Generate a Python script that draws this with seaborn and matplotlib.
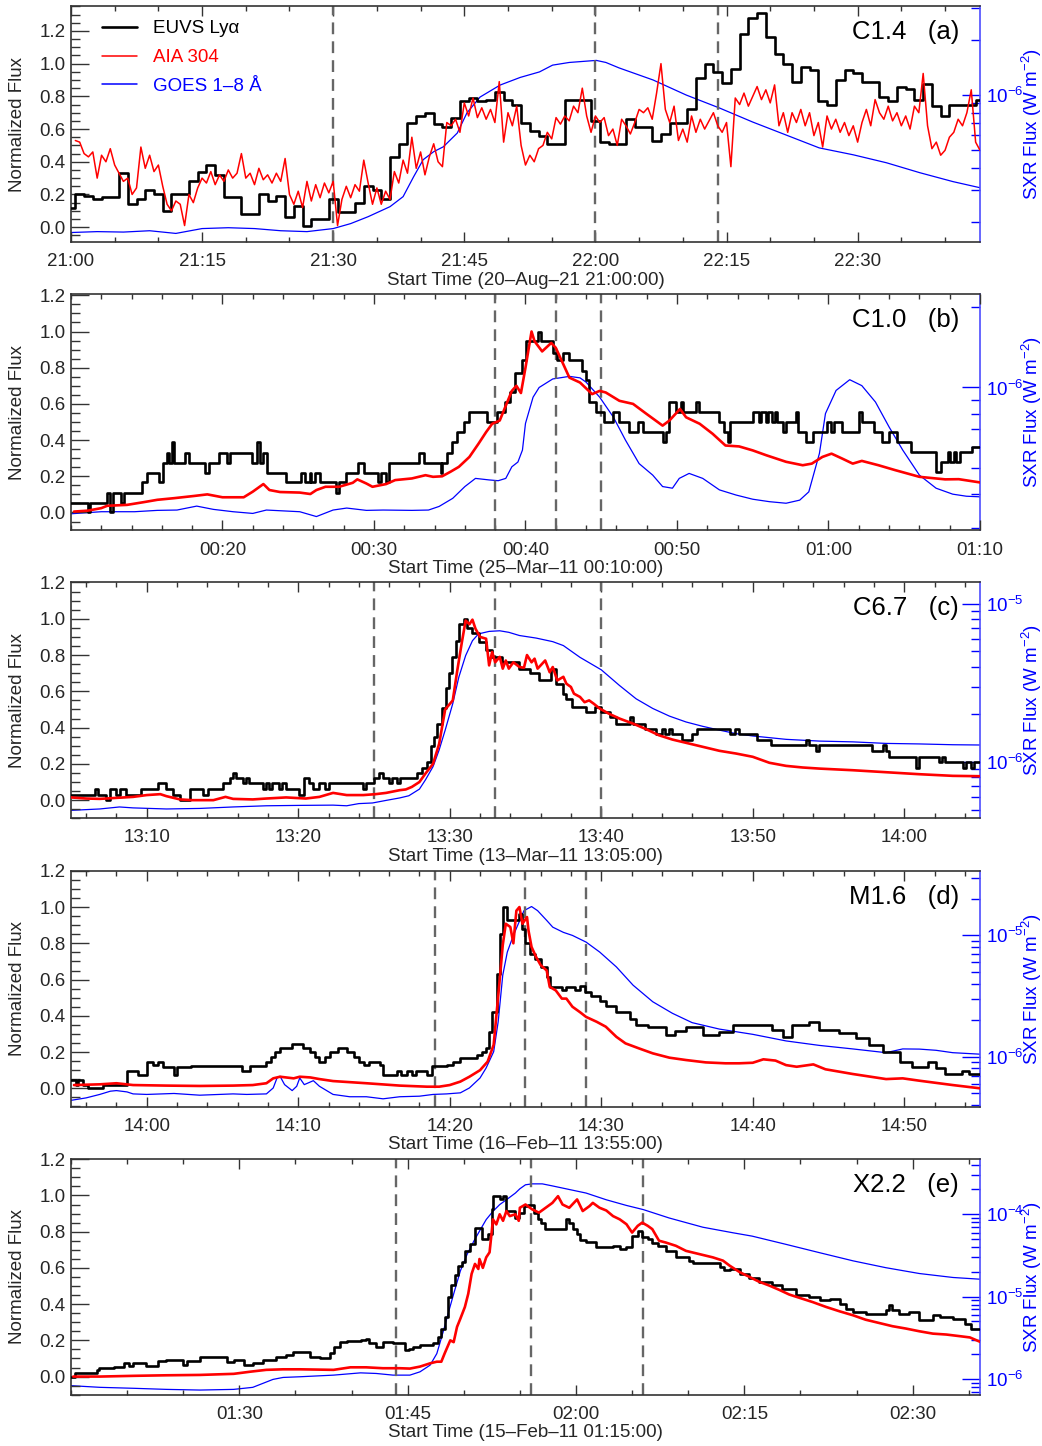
import numpy as np
import matplotlib
matplotlib.use('Agg')
import matplotlib.pyplot as plt
import matplotlib.ticker as mticker
from matplotlib.lines import Line2D
import seaborn as sns

sns.set_style('ticks')
plt.rcParams['font.family'] = ['Liberation Sans', 'DejaVu Sans']
plt.rcParams['mathtext.fontset'] = 'custom'
plt.rcParams['mathtext.rm'] = 'Liberation Sans'
plt.rcParams['mathtext.it'] = 'Liberation Sans:italic'
plt.rcParams['mathtext.sf'] = 'Liberation Sans'

# ---------------- DATA (minutes since start time) ----------------
# Panel (a) C1.4, 20-Aug-21 21:00
euvs_a = [0.12, 0.20, 0.19, 0.17, 0.185, 0.185, 0.33, 0.14, 0.17, 0.23,
          0.20, 0.10, 0.20, 0.20, 0.28, 0.34, 0.38, 0.32, 0.185, 0.185,
          0.08, 0.08, 0.20, 0.16, 0.19, 0.06, 0.13, 0.01, 0.05, 0.05,
          0.17, 0.09, 0.09, 0.15, 0.25, 0.225, 0.17, 0.43, 0.51, 0.64,
          0.68, 0.70, 0.63, 0.61, 0.67, 0.77, 0.79, 0.77, 0.78, 0.825,
          0.78, 0.745, 0.64, 0.59, 0.555, 0.51, 0.51, 0.78, 0.78, 0.78,
          0.65, 0.52, 0.506, 0.506, 0.66, 0.61, 0.61, 0.53, 0.57, 0.64,
          0.64, 0.72, 0.91, 1.00, 0.95, 0.88, 0.97, 1.18, 1.28, 1.31,
          1.16, 1.06, 1.00, 0.89, 0.98, 0.96, 0.77, 0.75, 0.90, 0.96,
          0.94, 0.89, 0.89, 0.795, 0.77, 0.86, 0.845, 0.78, 0.875, 0.74,
          0.68, 0.75, 0.75, 0.75, 0.78]
aia_a = [0.53, 0.52, 0.45, 0.43, 0.46, 0.30, 0.44, 0.40, 0.48, 0.38,
         0.33, 0.28, 0.30, 0.20, 0.24, 0.49, 0.36, 0.44, 0.34, 0.38,
         0.25, 0.14, 0.10, 0.16, 0.14, 0.01, 0.20, 0.15, 0.24, 0.30,
         0.27, 0.34, 0.26, 0.32, 0.28, 0.35, 0.30, 0.33, 0.45, 0.30,
         0.33, 0.26, 0.36, 0.29, 0.32, 0.27, 0.33, 0.28, 0.42, 0.20,
         0.14, 0.22, 0.12, 0.28, 0.16, 0.26, 0.18, 0.27, 0.21, 0.28,
         0.01, 0.17, 0.25, 0.18, 0.26, 0.22, 0.41, 0.27, 0.14, 0.24,
         0.14, 0.22, 0.17, 0.34, 0.27, 0.41, 0.33, 0.55, 0.36, 0.46,
         0.32, 0.43, 0.51, 0.40, 0.37, 0.64, 0.62, 0.66, 0.58, 0.76,
         0.68, 0.79, 0.67, 0.73, 0.66, 0.72, 0.64, 0.89, 0.52, 0.70,
         0.62, 0.74, 0.50, 0.38, 0.44, 0.40, 0.48, 0.50, 0.58, 0.54,
         0.67, 0.63, 0.68, 0.65, 0.74, 0.70, 0.85, 0.68, 0.58, 0.68,
         0.64, 0.67, 0.56, 0.60, 0.50, 0.66, 0.62, 0.57, 0.64, 0.72,
         0.70, 0.73, 0.66, 0.82, 1.00, 0.72, 0.64, 0.74, 0.53, 0.60,
         0.52, 0.68, 0.58, 0.66, 0.60, 0.65, 0.70, 0.62, 0.58, 0.64,
         0.37, 0.79, 0.75, 0.82, 0.74, 0.80, 0.86, 0.78, 0.84, 0.76,
         0.87, 0.62, 0.70, 0.58, 0.70, 0.64, 0.72, 0.62, 0.70, 0.56,
         0.64, 0.49, 0.68, 0.60, 0.66, 0.58, 0.64, 0.56, 0.62, 0.52,
         0.64, 0.72, 0.62, 0.78, 0.70, 0.66, 0.74, 0.65, 0.70, 0.62,
         0.68, 0.60, 0.74, 0.70, 0.94, 0.62, 0.48, 0.52, 0.44, 0.47,
         0.55, 0.58, 0.66, 0.62, 0.70, 0.84, 0.52, 0.47]
goes_a = [(0, 1.76e-7), (3, 1.78e-7), (6, 1.77e-7), (9, 1.80e-7), (12, 1.74e-7),
          (15, 1.85e-7), (18, 1.87e-7), (21, 1.85e-7), (24, 1.80e-7), (27, 1.78e-7),
          (30, 1.85e-7), (32, 1.97e-7), (34, 2.15e-7), (36.5, 2.44e-7), (38, 2.77e-7),
          (39.2, 3.56e-7), (40.3, 4.42e-7), (41.5, 4.89e-7), (42.6, 5.20e-7),
          (44.2, 6.19e-7), (45.3, 7.98e-7), (46.8, 9.75e-7), (49.1, 1.135e-6),
          (51.4, 1.25e-6), (53.6, 1.34e-6), (55.1, 1.46e-6), (57, 1.51e-6),
          (60.1, 1.55e-6), (61.2, 1.51e-6), (62.7, 1.41e-6), (66.6, 1.21e-6),
          (70.4, 1.0e-6), (74.2, 8.49e-7), (78, 7.11e-7), (81.8, 6.04e-7),
          (85.6, 5.13e-7), (89.5, 4.70e-7), (93.3, 4.25e-7), (97.1, 3.75e-7),
          (100.9, 3.35e-7), (104, 3.10e-7)]
dashed_a = [30, 60, 74]
xt_a = [0, 15, 30, 45, 60, 75, 90]
xl_a = ['21:00', '21:15', '21:30', '21:45', '22:00', '22:15', '22:30']

# Panel (b) C1.0, 25-Mar-11 00:10
euvs_b = [(0, 0.055), (1.1, 0.0), (1.25, 0.055), (2.36, 0.11), (2.6, 0.0), (2.75, 0.11),
          (3.3, 0.055), (3.5, 0.11), (4.7, 0.166), (5.03, 0.22), (5.8, 0.166), (6.06, 0.276),
          (6.35, 0.33), (6.5, 0.276), (6.67, 0.39), (6.8, 0.276), (7.55, 0.33), (7.77, 0.276),
          (8.86, 0.22), (9.08, 0.276), (9.74, 0.33), (10.28, 0.276), (10.5, 0.33),
          (11.93, 0.276), (12.25, 0.39), (12.5, 0.276), (12.69, 0.33), (12.91, 0.22),
          (14.22, 0.166), (15.21, 0.22), (15.43, 0.166), (15.75, 0.22), (15.86, 0.166),
          (16.08, 0.22), (16.41, 0.166), (17.51, 0.11), (17.72, 0.166), (18.16, 0.22),
          (18.93, 0.276), (19.37, 0.22), (20.24, 0.166), (20.46, 0.22), (20.79, 0.166),
          (21.0, 0.276), (22.98, 0.33), (23.3, 0.276), (24.4, 0.22), (24.51, 0.276),
          (24.84, 0.33), (25.16, 0.39), (25.49, 0.444), (25.93, 0.5), (26.26, 0.553),
          (27.46, 0.5), (28.12, 0.553), (28.67, 0.608), (29.0, 0.663), (29.32, 0.77),
          (29.8, 0.84), (30.04, 0.946), (30.8, 1.0), (31.0, 0.946), (31.8, 0.88),
          (32.1, 0.84), (32.5, 0.88), (32.9, 0.84), (33.7, 0.78), (34.0, 0.73),
          (34.2, 0.61), (34.66, 0.553), (35.2, 0.5), (35.76, 0.553), (36.2, 0.5),
          (36.86, 0.444), (37.4, 0.5), (37.74, 0.444), (39.05, 0.39), (39.27, 0.444),
          (39.5, 0.608), (39.93, 0.553), (40.26, 0.608), (40.37, 0.553), (41.25, 0.608),
          (41.47, 0.553), (42.8, 0.5), (43.1, 0.444), (43.34, 0.39), (43.5, 0.5),
          (45.0, 0.553), (45.4, 0.5), (45.55, 0.553), (45.85, 0.5), (46.0, 0.553),
          (46.3, 0.5), (46.45, 0.553), (46.6, 0.5), (46.97, 0.444), (47.19, 0.5),
          (47.85, 0.553), (47.96, 0.444), (48.5, 0.39), (48.95, 0.444), (49.93, 0.5),
          (50.15, 0.444), (50.37, 0.5), (50.92, 0.444), (52.02, 0.553), (52.24, 0.5),
          (53.0, 0.444), (53.56, 0.39), (54.0, 0.444), (54.55, 0.39), (55.43, 0.334),
          (57.08, 0.225), (57.4, 0.28), (57.9, 0.334), (58.0, 0.28), (58.3, 0.334),
          (58.4, 0.28), (58.7, 0.334), (59.5, 0.36), (60, 0.36)]
aia_b = [(0.2, 0.005), (1.1, 0.01), (2.0, 0.024), (2.4, 0.037), (3.7, 0.042), (4.8, 0.057),
         (5.7, 0.07), (6.8, 0.079), (8.1, 0.091), (9.0, 0.10), (10.0, 0.084), (11.4, 0.084),
         (12.0, 0.115), (12.7, 0.157), (13.1, 0.124), (13.8, 0.113), (15.1, 0.11),
         (15.8, 0.102), (16.2, 0.124), (16.8, 0.142), (17.7, 0.142), (18.6, 0.164),
         (18.9, 0.183), (19.5, 0.16), (19.9, 0.142), (20.8, 0.157), (21.4, 0.179),
         (22.5, 0.188), (23.4, 0.206), (23.9, 0.197), (24.5, 0.2), (25.05, 0.225),
         (25.6, 0.252), (26.3, 0.307), (26.9, 0.38), (27.4, 0.444), (27.8, 0.49),
         (28.3, 0.508), (28.7, 0.59), (29.1, 0.672), (29.4, 0.70), (29.7, 0.66),
         (30.0, 0.80), (30.4, 1.0), (30.6, 0.946), (31.1, 0.89), (31.7, 0.937),
         (32.0, 0.91), (32.6, 0.80), (32.9, 0.745), (33.6, 0.718), (34.4, 0.654),
         (34.9, 0.672), (35.3, 0.663), (36.2, 0.617), (37.1, 0.60), (38.0, 0.544),
         (39.05, 0.48), (39.5, 0.508), (40.2, 0.572), (40.6, 0.526), (41.5, 0.49),
         (42.35, 0.435), (43.2, 0.37), (44.1, 0.365), (45.0, 0.343), (45.9, 0.316),
         (47.2, 0.28), (48.3, 0.261), (48.9, 0.27), (49.6, 0.307), (50.2, 0.325),
         (50.9, 0.298), (51.6, 0.27), (52.2, 0.285), (53.3, 0.261), (54.4, 0.234),
         (56.0, 0.197), (57.7, 0.183), (58.6, 0.184), (60.0, 0.166)]
goes_b = [(0, 3.39e-7), (2, 3.45e-7), (4.2, 3.45e-7), (5.7, 3.49e-7), (7, 3.50e-7),
          (8.3, 3.62e-7), (9.4, 3.52e-7), (10.7, 3.45e-7), (12, 3.40e-7), (12.9, 3.50e-7),
          (15.1, 3.45e-7), (16.2, 3.31e-7), (17.3, 3.50e-7), (18.2, 3.56e-7), (19.5, 3.49e-7),
          (20.6, 3.50e-7), (22.5, 3.49e-7), (23.6, 3.50e-7), (24.3, 3.61e-7), (25.2, 3.87e-7),
          (26.0, 4.28e-7), (26.7, 4.59e-7), (27.6, 4.53e-7), (28.2, 4.50e-7), (28.7, 4.59e-7),
          (29.1, 5.07e-7), (29.5, 5.28e-7), (29.8, 5.85e-7), (30.0, 7.35e-7), (30.5, 9.20e-7),
          (30.9, 1.00e-6), (31.8, 1.076e-6), (32.9, 1.10e-6), (33.6, 1.086e-6), (34.0, 1.047e-6),
          (34.9, 9.20e-7), (35.8, 7.76e-7), (36.6, 6.37e-7), (37.5, 5.21e-7), (38.4, 4.72e-7),
          (39.05, 4.28e-7), (39.7, 4.22e-7), (40.15, 4.59e-7), (40.8, 4.79e-7), (41.7, 4.59e-7),
          (42.8, 4.16e-7), (43.9, 3.98e-7), (45, 3.84e-7), (46.1, 3.76e-7), (47.2, 3.71e-7),
          (48.1, 3.81e-7), (48.7, 4.09e-7), (49.4, 5.68e-7), (49.8, 8.0e-7), (50.5, 9.75e-7),
          (51.4, 1.069e-6), (52.2, 1.016e-6), (53.1, 8.83e-7), (54.0, 7.13e-7), (54.9, 5.85e-7),
          (56.0, 4.72e-7), (57.1, 4.22e-7), (58.2, 4.01e-7), (59.1, 3.94e-7), (60, 3.92e-7)]
dashed_b = [28, 32, 35]
xt_b = [10, 20, 30, 40, 50, 60]
xl_b = ['00:20', '00:30', '00:40', '00:50', '01:00', '01:10']

# Panel (c) C6.7, 13-Mar-11 13:05
euvs_c = [(0, 0.028), (1.58, 0.06), (1.8, 0.028), (2.3, 0.0), (2.56, 0.06), (3.0, 0.028),
          (3.22, 0.06), (3.66, 0.028), (4.65, 0.06), (5.75, 0.092), (6.3, 0.06), (6.73, 0.028),
          (7.17, 0.0), (7.83, 0.06), (8.7, 0.028), (9.04, 0.06), (10.03, 0.092), (10.47, 0.12),
          (10.69, 0.152), (10.9, 0.12), (11.35, 0.092), (11.55, 0.12), (11.78, 0.092),
          (12.66, 0.06), (12.88, 0.092), (13.1, 0.06), (13.3, 0.092), (13.7, 0.06),
          (13.9, 0.092), (14.2, 0.06), (15.06, 0.028), (15.4, 0.12), (15.74, 0.092),
          (15.96, 0.06), (16.4, 0.092), (16.8, 0.06), (17.0, 0.092), (19.25, 0.06),
          (19.47, 0.092), (20.0, 0.12), (20.35, 0.152), (20.57, 0.12), (21.0, 0.092),
          (21.2, 0.12), (21.5, 0.092), (21.7, 0.12), (22.87, 0.152), (23.2, 0.18),
          (23.53, 0.21), (23.75, 0.30), (23.97, 0.35), (24.19, 0.42), (24.52, 0.51),
          (24.74, 0.62), (24.96, 0.70), (25.18, 0.79), (25.4, 0.88), (25.6, 0.97),
          (25.94, 1.0), (26.16, 0.95), (26.49, 0.92), (26.93, 0.87), (27.37, 0.83),
          (27.8, 0.79), (28.47, 0.76), (29.6, 0.725), (30.3, 0.70), (30.9, 0.66),
          (31.7, 0.725), (32.0, 0.64), (32.5, 0.587), (32.7, 0.56), (33.1, 0.514),
          (34.0, 0.486), (34.6, 0.514), (35.0, 0.486), (35.55, 0.46), (36.0, 0.42),
          (36.9, 0.46), (37.1, 0.42), (37.9, 0.394), (38.6, 0.367), (39.0, 0.394),
          (39.2, 0.367), (39.5, 0.394), (39.7, 0.367), (40.3, 0.334), (41.0, 0.367),
          (41.3, 0.394), (43.5, 0.363), (43.8, 0.394), (44.1, 0.363), (45.3, 0.334),
          (46.2, 0.303), (48.5, 0.33), (48.7, 0.303), (49.2, 0.27), (49.4, 0.303),
          (52.9, 0.27), (53.6, 0.303), (53.8, 0.27), (54.0, 0.238), (55.8, 0.18),
          (56.0, 0.238), (57.3, 0.21), (57.5, 0.238), (57.7, 0.21), (58.9, 0.18),
          (59.1, 0.21), (59.4, 0.18), (59.6, 0.21), (60, 0.21)]
aia_c = [(0, 0.015), (1.0, 0.009), (1.9, 0.007), (4.1, 0.018), (5.0, 0.028), (5.9, 0.033),
         (6.3, 0.022), (7.2, 0.004), (8.0, 0.0), (9.4, 0.0), (10.2, 0.018), (10.7, 0.007),
         (12.0, 0.004), (12.9, 0.009), (14.2, 0.015), (15.5, 0.009), (16.4, 0.018),
         (17.3, 0.04), (18.2, 0.028), (19.3, 0.028), (20.1, 0.033), (20.8, 0.04),
         (21.7, 0.055), (22.1, 0.059), (22.5, 0.073), (23.0, 0.10), (23.4, 0.147),
         (23.9, 0.20), (24.3, 0.31), (24.7, 0.50), (25.2, 0.55), (25.5, 0.716), (25.8, 0.87),
         (26.05, 0.99), (26.3, 0.97), (26.5, 0.995), (26.7, 0.945), (27.0, 0.90),
         (27.4, 0.89), (27.6, 0.743), (27.8, 0.817), (28.0, 0.76), (28.3, 0.79),
         (28.5, 0.725), (28.7, 0.77), (28.9, 0.725), (29.2, 0.76), (29.6, 0.734),
         (29.9, 0.73), (30.1, 0.80), (30.4, 0.76), (30.6, 0.78), (30.8, 0.725),
         (31.3, 0.77), (31.6, 0.705), (31.8, 0.734), (32.1, 0.66), (32.5, 0.68),
         (32.7, 0.642), (33.0, 0.624), (33.2, 0.587), (33.6, 0.569), (33.9, 0.54),
         (34.2, 0.55), (34.5, 0.532), (34.9, 0.505), (35.5, 0.477), (36.2, 0.45),
         (37.1, 0.422), (38.0, 0.39), (38.8, 0.358), (39.7, 0.334), (40.6, 0.316),
         (41.7, 0.294), (42.8, 0.272), (43.9, 0.257), (45.0, 0.239), (46.1, 0.206),
         (47.2, 0.189), (48.3, 0.18), (49.4, 0.174), (51.6, 0.165), (53.8, 0.154),
         (56.0, 0.143), (58.2, 0.134), (60.0, 0.132)]
goes_c = [(0, 4.94e-7), (1.9, 5.04e-7), (3.2, 5.19e-7), (4.1, 5.12e-7), (6.3, 5.04e-7),
          (8.5, 5.08e-7), (10.7, 5.19e-7), (12.9, 5.28e-7), (15.1, 5.31e-7), (17.3, 5.33e-7),
          (18.2, 5.28e-7), (19, 5.45e-7), (19.9, 5.50e-7), (20.8, 5.71e-7), (21.7, 5.92e-7),
          (22.3, 6.11e-7), (23, 6.73e-7), (23.4, 7.71e-7), (23.9, 9.35e-7), (24.3, 1.19e-6),
          (24.7, 1.59e-6), (25.2, 2.34e-6), (25.6, 3.44e-6), (26.05, 4.71e-6), (26.5, 5.85e-6),
          (26.9, 6.46e-6), (27.6, 6.70e-6), (28.3, 6.76e-6), (28.9, 6.61e-6), (29.6, 6.31e-6),
          (30.7, 6.08e-6), (31.8, 5.77e-6), (32.5, 5.45e-6), (33.6, 4.59e-6), (35, 3.83e-6),
          (36.2, 3.05e-6), (37.3, 2.51e-6), (38.4, 2.18e-6), (39.5, 1.95e-6), (40.6, 1.79e-6),
          (41.7, 1.68e-6), (42.8, 1.59e-6), (43.9, 1.51e-6), (45, 1.46e-6), (47.2, 1.39e-6),
          (49.4, 1.355e-6), (51.6, 1.34e-6), (53.8, 1.31e-6), (56, 1.30e-6), (58.2, 1.285e-6),
          (60, 1.28e-6)]
dashed_c = [20, 28, 35]
xt_c = [5, 15, 25, 35, 45, 55]
xl_c = ['13:10', '13:20', '13:30', '13:40', '13:50', '14:00']

# Panel (d) M1.6, 16-Feb-11 13:55
euvs_d = [(0, 0.046), (0.3, 0.018), (0.45, 0.046), (0.8, 0.018), (1.1, 0.0), (2.1, 0.018),
          (3.7, 0.095), (4.45, 0.073), (5.0, 0.147), (5.4, 0.128), (5.75, 0.147), (6.1, 0.12),
          (6.8, 0.073), (7.0, 0.12), (7.9, 0.125), (11.3, 0.095), (11.8, 0.125), (12.9, 0.147),
          (13.2, 0.174), (13.5, 0.2), (13.8, 0.224), (14.6, 0.242), (15.3, 0.224), (15.8, 0.2),
          (16.1, 0.174), (16.4, 0.147), (16.8, 0.174), (17.1, 0.2), (17.6, 0.224), (18.2, 0.2),
          (18.7, 0.174), (19.0, 0.147), (19.35, 0.128), (19.7, 0.147), (20.4, 0.128),
          (20.6, 0.073), (21.5, 0.095), (21.8, 0.073), (22.2, 0.095), (22.5, 0.073),
          (22.8, 0.095), (23.5, 0.073), (23.8, 0.125), (24.8, 0.128), (25.2, 0.147),
          (25.7, 0.17), (26.8, 0.185), (27.1, 0.2), (27.4, 0.22), (27.6, 0.31), (27.8, 0.42),
          (28.1, 0.63), (28.3, 0.85), (28.5, 1.0), (28.8, 0.93), (29.6, 0.963), (29.8, 0.88),
          (30.0, 0.80), (30.3, 0.743), (30.6, 0.716), (31.0, 0.67), (31.4, 0.615),
          (31.6, 0.56), (32.4, 0.54), (32.7, 0.56), (33.3, 0.54), (33.6, 0.563),
          (33.9, 0.532), (34.3, 0.508), (34.9, 0.483), (35.3, 0.453), (36.0, 0.422),
          (36.9, 0.38), (37.3, 0.349), (38.1, 0.34), (39.3, 0.294), (39.9, 0.318),
          (40.6, 0.34), (41.7, 0.294), (42.8, 0.312), (43.7, 0.349), (46.3, 0.321),
          (47.0, 0.284), (47.6, 0.349), (48.7, 0.367), (49.4, 0.321), (50.7, 0.303),
          (51.8, 0.275), (52.7, 0.239), (53.6, 0.202), (54.7, 0.147), (55.5, 0.119),
          (56.6, 0.147), (57.1, 0.11), (57.7, 0.079), (58.8, 0.095), (59.3, 0.079),
          (60, 0.079)]
aia_d = [(0.2, 0.018), (1.9, 0.022), (3.0, 0.028), (4.1, 0.018), (6.3, 0.015), (8.5, 0.013),
         (10.7, 0.015), (12.0, 0.018), (12.9, 0.028), (13.35, 0.055), (13.8, 0.064),
         (14.7, 0.055), (15.1, 0.064), (15.8, 0.06), (16.4, 0.051), (17.3, 0.04),
         (19.5, 0.028), (21.7, 0.015), (23.5, 0.009), (24.3, 0.009), (25.0, 0.018),
         (25.7, 0.037), (26.3, 0.064), (27.0, 0.10), (27.5, 0.147), (27.9, 0.24),
         (28.1, 0.42), (28.3, 0.60), (28.5, 0.79), (28.7, 0.908), (29.0, 0.89), (29.2, 0.80),
         (29.4, 0.98), (29.6, 1.0), (29.8, 0.908), (30.1, 0.945), (30.2, 0.87), (30.4, 0.78),
         (30.7, 0.725), (31.0, 0.68), (31.4, 0.65), (31.6, 0.56), (32.0, 0.54),
         (32.4, 0.495), (32.7, 0.495), (33.1, 0.45), (33.6, 0.42), (34.0, 0.394),
         (34.7, 0.367), (35.3, 0.34), (36.0, 0.284), (36.6, 0.248), (37.5, 0.22),
         (38.4, 0.193), (39.5, 0.169), (40.6, 0.156), (41.9, 0.143), (43.2, 0.138),
         (44.1, 0.138), (45.0, 0.141), (45.7, 0.16), (46.5, 0.153), (47.2, 0.128),
         (47.9, 0.119), (49.0, 0.132), (49.8, 0.105), (51.6, 0.079), (53.8, 0.051),
         (54.9, 0.055), (56.0, 0.042), (58.2, 0.018), (60.0, 0.0)]
goes_d = [(0, 4.37e-7), (1, 4.58e-7), (1.9, 4.89e-7), (2.6, 5.20e-7), (3, 5.26e-7),
          (3.7, 5.13e-7), (4.1, 4.94e-7), (5, 4.89e-7), (6.8, 4.98e-7), (8.5, 4.82e-7),
          (10.7, 4.94e-7), (11.6, 4.89e-7), (12.9, 4.94e-7), (13.35, 5.53e-7), (13.6, 6.68e-7),
          (13.8, 6.90e-7), (14.1, 5.89e-7), (14.6, 5.26e-7), (14.9, 5.71e-7), (15.1, 6.68e-7),
          (15.4, 5.89e-7), (16, 6.35e-7), (16.4, 5.71e-7), (17.3, 4.89e-7), (18.4, 4.68e-7),
          (19.5, 4.68e-7), (20.6, 4.50e-7), (21.7, 4.68e-7), (23, 4.73e-7), (23.9, 4.89e-7),
          (24.8, 4.94e-7), (25.7, 5.04e-7), (26.3, 5.53e-7), (27, 6.68e-7), (27.4, 8.07e-7),
          (27.9, 1.10e-6), (28.2, 1.95e-6), (28.5, 4.70e-6), (28.8, 7.29e-6), (29.2, 1.0e-5),
          (29.6, 1.31e-5), (29.9, 1.60e-5), (30.4, 1.73e-5), (30.8, 1.60e-5), (31.4, 1.33e-5),
          (31.8, 1.17e-5), (32.5, 1.06e-5), (33.1, 1.0e-5), (34, 8.81e-6), (34.9, 7.29e-6),
          (36, 5.50e-6), (37.1, 3.89e-6), (38.4, 2.84e-6), (39.7, 2.28e-6), (41, 1.91e-6),
          (42.8, 1.69e-6), (45, 1.53e-6), (47.2, 1.35e-6), (49.4, 1.24e-6), (51.6, 1.16e-6),
          (53.8, 1.08e-6), (54.9, 1.16e-6), (56, 1.156e-6), (57.1, 1.13e-6), (58.2, 1.08e-6),
          (60, 1.05e-6)]
dashed_d = [24, 30, 34]
xt_d = [5, 15, 25, 35, 45, 55]
xl_d = ['14:00', '14:10', '14:20', '14:30', '14:40', '14:50']

# Panel (e) X2.2, 15-Feb-11 01:15
euvs_e = [(0, 0.0), (0.35, 0.018), (2.3, 0.037), (2.5, 0.046), (3.8, 0.055), (4.7, 0.073),
          (5.2, 0.06), (5.5, 0.073), (6.7, 0.058), (7.8, 0.088), (8.5, 0.091), (10.0, 0.064),
          (10.3, 0.088), (11.5, 0.11), (13.9, 0.082), (14.5, 0.091), (15.4, 0.064),
          (16.2, 0.073), (17.1, 0.091), (18.3, 0.106), (19.2, 0.12), (19.8, 0.137),
          (21.3, 0.11), (22.2, 0.10), (23.1, 0.128), (23.4, 0.161), (24.0, 0.192),
          (24.6, 0.197), (25.8, 0.20), (26.3, 0.21), (26.6, 0.186), (27.2, 0.165),
          (27.8, 0.192), (28.7, 0.183), (29.8, 0.146), (30.1, 0.15), (30.5, 0.165),
          (31.1, 0.174), (32.3, 0.183), (32.7, 0.22), (33.0, 0.265), (33.3, 0.33),
          (33.6, 0.44), (33.9, 0.503), (34.2, 0.558), (34.5, 0.612), (34.8, 0.63),
          (35.1, 0.695), (35.55, 0.731), (36.0, 0.82), (36.6, 0.76), (37.2, 0.786),
          (37.5, 0.923), (37.6, 0.996), (38.2, 0.978), (38.5, 0.996), (38.8, 0.914),
          (39.6, 0.878), (39.95, 0.905), (40.4, 0.94), (40.7, 0.95), (41.3, 0.905),
          (41.6, 0.868), (41.9, 0.85), (42.2, 0.813), (44.1, 0.868), (44.4, 0.85),
          (44.7, 0.813), (45.1, 0.786), (45.4, 0.753), (45.9, 0.745), (46.8, 0.716),
          (48.3, 0.722), (48.9, 0.704), (49.5, 0.716), (50.0, 0.777), (50.5, 0.804),
          (50.9, 0.771), (51.4, 0.758), (51.8, 0.74), (52.3, 0.722), (53.0, 0.694),
          (53.9, 0.658), (55.1, 0.64), (55.4, 0.625), (57.8, 0.603), (58.2, 0.589),
          (58.7, 0.594), (59.6, 0.567), (60.4, 0.545), (61.3, 0.521), (62.5, 0.503),
          (63.4, 0.484), (64.6, 0.453), (65.8, 0.439), (66.7, 0.42), (67.6, 0.429),
          (68.5, 0.402), (69.1, 0.375), (69.7, 0.356), (70.8, 0.347), (72.6, 0.365),
          (72.9, 0.393), (73.2, 0.365), (73.8, 0.347), (74.7, 0.356), (75.6, 0.311),
          (76.8, 0.338), (77.4, 0.329), (78.6, 0.32), (79.7, 0.292), (80.2, 0.265),
          (81, 0.265)]
aia_e = [(0.2, 0.0), (2.6, 0.0), (5.6, 0.004), (8.5, 0.007), (11.5, 0.009), (14.5, 0.015),
         (16.0, 0.027), (17.4, 0.037), (18.9, 0.04), (20.4, 0.04), (23.4, 0.037),
         (24.9, 0.051), (26.3, 0.051), (27.8, 0.046), (29.3, 0.046), (30.2, 0.044),
         (31.1, 0.055), (32.0, 0.073), (32.6, 0.082), (33.0, 0.082), (33.3, 0.128),
         (33.8, 0.20), (34.1, 0.19), (34.4, 0.274), (34.7, 0.32), (35.1, 0.384),
         (35.4, 0.457), (35.7, 0.567), (36.0, 0.622), (36.3, 0.594), (36.4, 0.649),
         (36.7, 0.60), (37.0, 0.658), (37.3, 0.686), (37.5, 0.804), (37.6, 0.868),
         (37.9, 0.84), (38.2, 0.896), (38.5, 0.86), (38.8, 0.914), (39.1, 0.886),
         (39.6, 0.896), (39.9, 0.86), (40.0, 0.932), (40.5, 0.95), (41.1, 0.923),
         (41.7, 0.905), (42.3, 0.932), (42.9, 0.959), (43.4, 0.996), (43.8, 0.95),
         (44.4, 0.932), (45.1, 0.978), (45.6, 0.914), (46.2, 0.941), (46.5, 0.959),
         (47.1, 0.932), (47.7, 0.917), (48.3, 0.886), (48.9, 0.868), (49.5, 0.841),
         (50.0, 0.795), (50.5, 0.832), (50.9, 0.85), (51.4, 0.832), (51.8, 0.814),
         (52.4, 0.75), (53.0, 0.74), (53.9, 0.722), (54.8, 0.694), (56.0, 0.676),
         (57.2, 0.658), (58.1, 0.64), (58.7, 0.612), (59.6, 0.576), (60.4, 0.552),
         (61.3, 0.524), (62.2, 0.503), (63.1, 0.479), (64.0, 0.453), (64.9, 0.435),
         (66.1, 0.411), (67.3, 0.384), (68.5, 0.36), (69.7, 0.338), (70.8, 0.314),
         (72.0, 0.296), (73.2, 0.278), (74.4, 0.265), (75.6, 0.25), (76.8, 0.237),
         (78.0, 0.232), (79.2, 0.223), (80.1, 0.216), (81.0, 0.192)]
goes_e = [(0, 8.32e-7), (2.6, 7.94e-7), (5.6, 7.73e-7), (8.5, 7.50e-7), (11.5, 7.36e-7),
          (14.5, 7.50e-7), (16.2, 7.94e-7), (17.1, 8.87e-7), (18, 9.91e-7), (18.9, 1.047e-6),
          (20.4, 1.067e-6), (23.4, 1.117e-6), (25.8, 1.19e-6), (27.2, 1.17e-6),
          (28.7, 1.117e-6), (30.2, 1.117e-6), (31.1, 1.225e-6), (32, 1.476e-6), (32.6, 2.04e-6),
          (33.2, 3.89e-6), (33.6, 6.19e-6), (34.1, 1.08e-5), (34.7, 2.06e-5), (35.3, 3.27e-5),
          (35.9, 4.73e-5), (36.4, 6.24e-5), (37, 8.63e-5), (37.6, 1.086e-4), (38.2, 1.31e-4),
          (38.8, 1.50e-4), (39.6, 1.81e-4), (40, 2.04e-4), (40.5, 2.28e-4), (41.1, 2.34e-4),
          (42, 2.34e-4), (42.9, 2.21e-4), (44.1, 2.04e-4), (45.9, 1.81e-4), (47.7, 1.50e-4),
          (49.5, 1.28e-4), (51, 1.14e-4), (53.3, 9.02e-5), (56.3, 6.97e-5), (59, 5.96e-5),
          (60.7, 5.43e-5), (63.7, 4.32e-5), (66.7, 3.42e-5), (69.7, 2.72e-5), (72.6, 2.25e-5),
          (75.6, 1.91e-5), (78.6, 1.71e-5), (81, 1.63e-5)]
dashed_e = [29, 41, 51]
xt_e = [15, 30, 45, 60, 75]
xl_e = ['01:30', '01:45', '02:00', '02:15', '02:30']

# ---------------- STYLE ----------------
RED = '#ff0000'
BLUE = '#0000ff'
DASH = '#666666'
FRAME = '#333333'
FS = 13.5


def unzip(pairs):
    t, v = zip(*pairs)
    return np.array(t, float), np.array(v, float)


panels = [
    dict(tag='C1.4   (a)', start='20–Aug–21 21:00:00', xlim=(0, 104),
         euvs=(np.arange(len(euvs_a), dtype=float), np.array(euvs_a)), euvs_ds='steps-mid',
         aia=(0.5 * np.arange(1, len(aia_a) + 1), np.array(aia_a)), aia_lw=1.1,
         goes=unzip(goes_a), ylim=(-0.091, 1.352), rlim=(1.56e-7, 3.08e-6),
         dashed=dashed_a, xt=xt_a, xl=xl_a, minor=np.arange(0, 105, 5)),
    dict(tag='C1.0   (b)', start='25–Mar–11 00:10:00', xlim=(0, 60),
         euvs=unzip(euvs_b), euvs_ds='steps-post', aia=unzip(aia_b), aia_lw=1.9,
         goes=unzip(goes_b), ylim=(-0.099, 1.205), rlim=(2.94e-7, 2.22e-6),
         dashed=dashed_b, xt=xt_b, xl=xl_b, minor=np.arange(0, 61, 2)),
    dict(tag='C6.7   (c)', start='13–Mar–11 13:05:00', xlim=(0, 60),
         euvs=unzip(euvs_c), euvs_ds='steps-post', aia=unzip(aia_c), aia_lw=1.9,
         goes=unzip(goes_c), ylim=(-0.1, 1.201), rlim=(4.40e-7, 1.37e-5),
         dashed=dashed_c, xt=xt_c, xl=xl_c, minor=np.arange(1, 61, 2)),
    dict(tag='M1.6   (d)', start='16–Feb–11 13:55:00', xlim=(0, 60),
         euvs=unzip(euvs_d), euvs_ds='steps-post', aia=unzip(aia_d), aia_lw=1.9,
         goes=unzip(goes_d), ylim=(-0.101, 1.201), rlim=(3.88e-7, 3.42e-5),
         dashed=dashed_d, xt=xt_d, xl=xl_d, minor=np.arange(1, 61, 2)),
    dict(tag='X2.2   (e)', start='15–Feb–11 01:15:00', xlim=(0, 81),
         euvs=unzip(euvs_e), euvs_ds='steps-post', aia=unzip(aia_e), aia_lw=1.9,
         goes=unzip(goes_e), ylim=(-0.1, 1.203), rlim=(6.47e-7, 4.73e-4),
         dashed=dashed_e, xt=xt_e, xl=xl_e, minor=np.arange(0, 82, 5)),
]

fig = plt.figure(figsize=(10.42, 14.46), dpi=100)
bottoms = [0.8326, 0.6332, 0.4341, 0.2347, 0.0355]
LEFT, WIDTH, HEIGHT = 0.0681, 0.8724, 0.1632

for i, p in enumerate(panels):
    ax = fig.add_axes([LEFT, bottoms[i], WIDTH, HEIGHT])
    ax2 = ax.twinx()
    ax2.set_yscale('log')
    ax.set_zorder(ax2.get_zorder() + 1)
    ax.patch.set_visible(False)

    for d in p['dashed']:
        ax.axvline(d, color=DASH, lw=1.7, ls=(0, (5.0, 3.0)), zorder=1)

    gt, gv = p['goes']
    sns.lineplot(x=gt, y=gv, ax=ax2, color=BLUE, lw=0.9, estimator=None,
                 sort=False, errorbar=None, legend=False)
    et, ev = p['euvs']
    sns.lineplot(x=et, y=ev, ax=ax, color='black', lw=1.9, drawstyle=p['euvs_ds'],
                 estimator=None, sort=False, errorbar=None, legend=False, zorder=3)
    at, av = p['aia']
    sns.lineplot(x=at, y=av, ax=ax, color=RED, lw=p['aia_lw'], estimator=None,
                 sort=False, errorbar=None, legend=False, zorder=4)

    ax.set_xlim(*p['xlim'])
    ax.set_ylim(*p['ylim'])
    ax2.set_ylim(*p['rlim'])

    # x axis
    ax.set_xticks(p['xt'])
    ax.set_xticklabels(p['xl'])
    ax.set_xticks(p['minor'], minor=True)
    ax.tick_params(axis='x', which='major', direction='in', top=True, bottom=True,
                   length=7, width=1.0, labelsize=FS, pad=8, color=FRAME)
    ax.tick_params(axis='x', which='minor', direction='in', top=True, bottom=True,
                   length=3.5, width=1.0, color=FRAME)
    ax.set_xlabel('Start Time (' + p['start'] + ')', fontsize=FS, labelpad=1)

    # left axis
    ax.set_yticks(np.arange(0, 1.21, 0.2))
    ax.yaxis.set_major_formatter(mticker.FormatStrFormatter('%.1f'))
    ax.yaxis.set_minor_locator(mticker.MultipleLocator(0.05))
    ax.tick_params(axis='y', which='major', direction='in', left=True, right=False,
                   length=13, width=1.0, labelsize=FS, pad=4, color=FRAME)
    ax.tick_params(axis='y', which='minor', direction='in', left=True, right=False,
                   length=6.5, width=1.0, color=FRAME)
    ax.set_ylabel('Normalized Flux', fontsize=FS)
    ax.yaxis.set_label_coords(-0.049, 0.5)

    # right axis
    ax2.yaxis.set_minor_formatter(mticker.NullFormatter())
    ax2.tick_params(axis='y', which='major', direction='in', length=13, width=1.0,
                    labelsize=FS, pad=4.5, colors=BLUE)
    ax2.tick_params(axis='y', which='minor', direction='in', length=6.5, width=1.0,
                    colors=BLUE)
    ax2.set_ylabel('SXR Flux (W m$^{-2}$)', fontsize=FS, color=BLUE)
    ax2.yaxis.set_label_coords(1.044, 0.5)

    for s in ['left', 'bottom', 'top']:
        ax.spines[s].set_color(FRAME)
        ax.spines[s].set_linewidth(1.2)
        ax2.spines[s].set_visible(False)
    ax.spines['right'].set_visible(False)
    ax2.spines['right'].set_color('#4d4dff')
    ax2.spines['right'].set_linewidth(1.2)

    ax.text(0.977, 0.89, p['tag'], transform=ax.transAxes, ha='right', va='center',
            fontsize=18.5, color='black', zorder=6)

    if i == 0:
        handles = [Line2D([], [], color='black', lw=1.9),
                   Line2D([], [], color=RED, lw=1.1),
                   Line2D([], [], color=BLUE, lw=1.1)]
        labels = ['EUVS Ly\u03b1', 'AIA 304', 'GOES 1\u20138 \u00c5']
        leg = ax.legend(handles, labels, loc='upper left', bbox_to_anchor=(0.034, 0.94),
                        frameon=False, fontsize=FS, handlelength=1.9, handletextpad=0.85,
                        labelspacing=0.62, borderpad=0, borderaxespad=0)
        for txt, c in zip(leg.get_texts(), ['black', RED, BLUE]):
            txt.set_color(c)

fig.savefig('out.png', dpi=100)
